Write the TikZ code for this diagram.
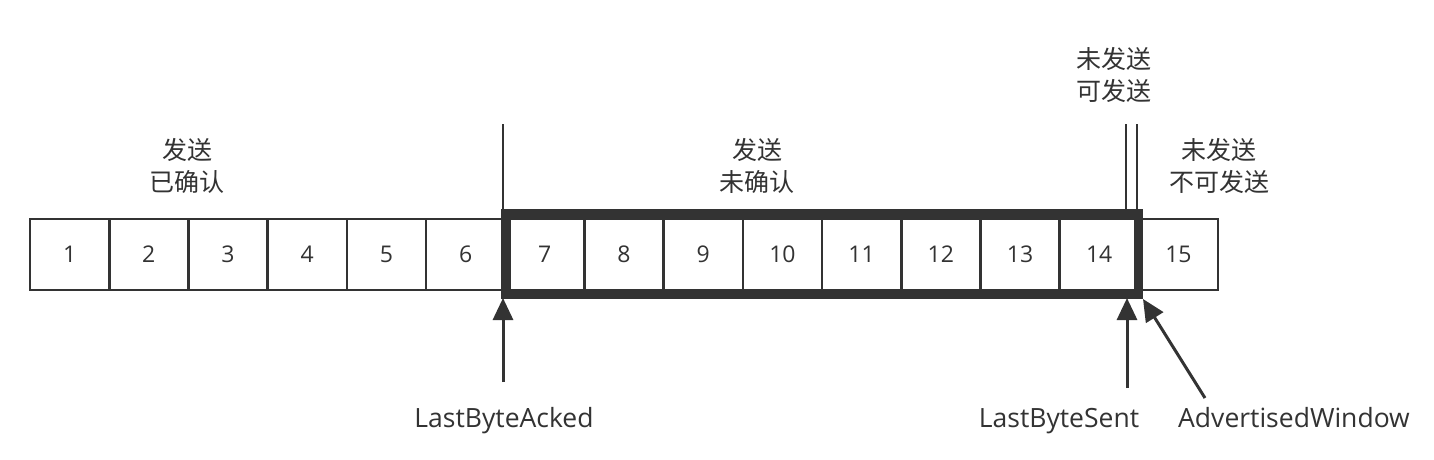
\documentclass[tikz,border=0pt]{standalone}
\usepackage{fontspec}
\setmainfont{Open Sans}
\newfontfamily\cjk{Noto Sans CJK SC}
\usetikzlibrary{arrows.meta}
\definecolor{ink}{HTML}{333333}
\begin{document}
\begin{tikzpicture}[x=1pt,y=-1pt,
  cell/.style={draw=ink, line width=2.6pt, minimum width=79.2pt, minimum height=71pt,
    inner sep=0pt, outer sep=0pt, anchor=west, text=ink, font=\fontsize{23}{26}\selectfont},
  lbl/.style={text=ink, align=center, inner sep=0pt, font=\cjk\fontsize{25}{31.5}\selectfont},
  tag/.style={text=ink, inner sep=0pt, anchor=base, font=\fontsize{26.5}{30}\selectfont},
  ptr/.style={draw=ink, line width=3pt, -{Triangle[length=22pt,width=20pt]}},
  rule/.style={draw=ink, line width=2.4pt},
  win/.style={draw=ink, line width=9.5pt},
]
\useasboundingbox[fill=white] (0,0) rectangle (1434,460);
\foreach \i in {1,...,15} \node[cell] (c\i) at ({30+(\i-1)*79.2},254.5) {\i};
% window box
\draw[win] (506,214) rectangle (1138.5,294);
% upper rules
\coordinate (r1top) at (503,124);
\coordinate (r1bot) at (503,210);
\coordinate (r2top) at (1126,124);
\coordinate (r2bot) at (1126,210);
\coordinate (r3top) at (1137,124);
\coordinate (r3bot) at (1137,210);
\draw[rule] (r1top) -- (r1bot);
\draw[rule] (r2top) -- (r2bot);
\draw[rule] (r3top) -- (r3bot);
% labels
\node[lbl] (l1) at (187,166) {发送\\已确认};
\node[lbl] (l2) at (757,166) {发送\\未确认};
\node[lbl] (l3) at (1114,75) {未发送\\可发送};
\node[lbl] (l4) at (1219,166) {未发送\\不可发送};
% pointer labels
\node[tag] (t1) at (504,427) {LastByteAcked};
\node[tag] (t2) at (1059,427) {LastByteSent};
\node[tag] (t3) at (1294,427) {AdvertisedWindow};
% arrows
\coordinate (a1s) at (503,382);
\coordinate (a1e) at (503,298);
\coordinate (a2s) at (1127,388);
\coordinate (a2e) at (1127,298);
\coordinate (a3s) at (1205,398);
\coordinate (a3e) at (1143,299);
\draw[ptr] (a1s) -- (a1e);
\draw[ptr] (a2s) -- (a2e);
\draw[ptr] (a3s) -- (a3e);
\end{tikzpicture}
\end{document}
